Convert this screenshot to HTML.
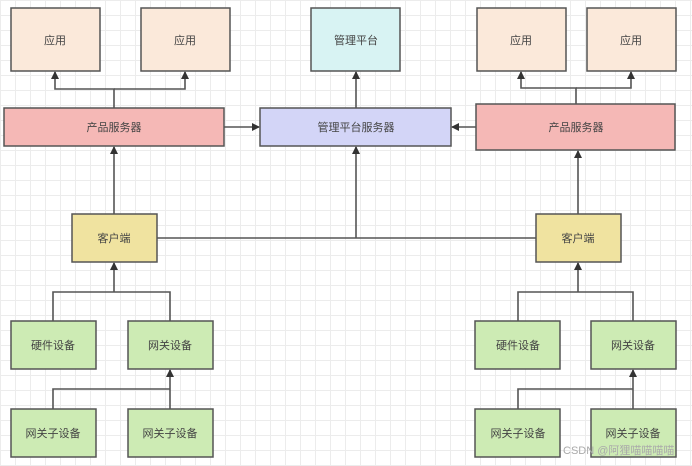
<!DOCTYPE html>
<html><head><meta charset="utf-8"><style>
html,body{margin:0;padding:0;}
body{width:692px;height:466px;overflow:hidden;background:#fff;
background-image:linear-gradient(#ececec 1px,transparent 1px),linear-gradient(90deg,#ececec 1px,transparent 1px);
background-size:15px 15px;font-family:"Liberation Sans","Noto Sans CJK SC",sans-serif;}
</style></head><body>
<svg width="692" height="466" xmlns="http://www.w3.org/2000/svg" style="position:absolute;left:0;top:0">
<defs><marker id="a" markerWidth="8" markerHeight="8" refX="7" refY="4" orient="auto" markerUnits="userSpaceOnUse"><path d="M0,0 L8,4 L0,8 z" fill="#333"/></marker></defs>
<g stroke="#555" stroke-width="1.6" fill="none">
<!-- left app connectors -->
<path d="M114 108 V89 H55 V72" marker-end="url(#a)"/>
<path d="M114 89 H185 V72" marker-end="url(#a)"/>
<path d="M356 108 V72" marker-end="url(#a)"/>
<path d="M224 127 H259" marker-end="url(#a)"/>
<path d="M476 127 H452" marker-end="url(#a)"/>
<path d="M576 104 V88 H521 V72" marker-end="url(#a)"/>
<path d="M576 88 H631 V72" marker-end="url(#a)"/>
<path d="M114 214 V147" marker-end="url(#a)"/>
<path d="M157 238 H536"/>
<path d="M356 238 V147" marker-end="url(#a)"/>
<path d="M578 214 V151" marker-end="url(#a)"/>
<path d="M53 321 V292 H170 V321"/>
<path d="M114 292 V263" marker-end="url(#a)"/>
<path d="M518 321 V292 H633 V321"/>
<path d="M578 292 V263" marker-end="url(#a)"/>
<path d="M53 409 V389 H170"/>
<path d="M170 409 V370" marker-end="url(#a)"/>
<path d="M518 409 V389 H633"/>
<path d="M633 409 V370" marker-end="url(#a)"/>
</g>
<g stroke="#555" stroke-width="1.5">
<rect x="11" y="8" width="89" height="63" fill="#fbe9da"/>
<rect x="141" y="8" width="89" height="63" fill="#fbe9da"/>
<rect x="311" y="8" width="89" height="63" fill="#d8f3f3"/>
<rect x="477" y="8" width="89" height="63" fill="#fbe9da"/>
<rect x="587" y="8" width="89" height="63" fill="#fbe9da"/>
<rect x="4" y="108" width="220" height="38" fill="#f5b8b6"/>
<rect x="260" y="108" width="191" height="38" fill="#d3d5f7"/>
<rect x="476" y="104" width="199" height="46" fill="#f5b8b6"/>
<rect x="72" y="214" width="85" height="48" fill="#f0e3a0"/>
<rect x="536" y="214" width="85" height="48" fill="#f0e3a0"/>
<rect x="11" y="321" width="85" height="48" fill="#cdebb4"/>
<rect x="128" y="321" width="85" height="48" fill="#cdebb4"/>
<rect x="475" y="321" width="85" height="48" fill="#cdebb4"/>
<rect x="591" y="321" width="85" height="48" fill="#cdebb4"/>
<rect x="11" y="409" width="85" height="48" fill="#cdebb4"/>
<rect x="128" y="409" width="85" height="48" fill="#cdebb4"/>
<rect x="475" y="409" width="85" height="48" fill="#cdebb4"/>
<rect x="591" y="409" width="85" height="48" fill="#cdebb4"/>
</g>
<g font-size="11" fill="#444" text-anchor="middle" font-family="Liberation Sans, Noto Sans CJK SC, sans-serif">
<text x="55" y="44">应用</text><text x="185" y="44">应用</text><text x="356" y="44">管理平台</text>
<text x="521" y="44">应用</text><text x="631" y="44">应用</text>
<text x="114" y="131">产品服务器</text><text x="356" y="131">管理平台服务器</text><text x="576" y="131">产品服务器</text>
<text x="114" y="242">客户端</text><text x="578" y="242">客户端</text>
<text x="53" y="349">硬件设备</text><text x="170" y="349">网关设备</text>
<text x="518" y="349">硬件设备</text><text x="633" y="349">网关设备</text>
<text x="53" y="437">网关子设备</text><text x="170" y="437">网关子设备</text>
<text x="518" y="437">网关子设备</text><text x="633" y="437">网关子设备</text>
</g>
<text x="563" y="454" font-size="11" fill="#aaa" font-family="Liberation Sans, Noto Sans CJK SC, sans-serif">CSDN @阿狸喵喵喵喵</text>
</svg>
</body></html>
